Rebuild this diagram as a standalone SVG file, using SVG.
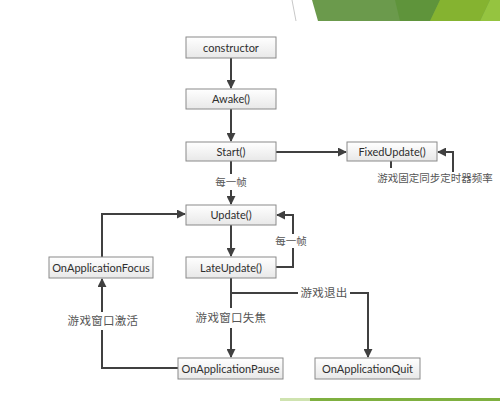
<svg xmlns="http://www.w3.org/2000/svg" width="500" height="401" viewBox="0 0 500 401">
<style>
.box{fill:url(#g);stroke:#8a8a8a;stroke-width:1}
.t{font-family:Lato,"Open Sans","Liberation Sans",sans-serif;font-size:11px;fill:#2e2e2e;text-anchor:middle}
.c{font-family:"Liberation Serif","Noto Sans CJK SC",serif;font-size:10.5px;fill:#555;text-anchor:middle}
.cb{font-family:"Liberation Serif","Noto Sans CJK SC",serif;font-size:11.5px;fill:#555;text-anchor:middle;letter-spacing:0.3px}
.ln{fill:none;stroke:#404040;stroke-width:2}
</style>
<defs>
<linearGradient id="g" x1="0" y1="0" x2="0" y2="1"><stop offset="0" stop-color="#ffffff"/><stop offset="1" stop-color="#e8e8e8"/></linearGradient>
<marker id="a" viewBox="0 0 10 10" refX="9" refY="5" markerWidth="4.5" markerHeight="4.5" orient="auto" markerUnits="strokeWidth"><path d="M0,0 L10,5 L0,10 z" fill="#404040"/></marker>
</defs>
<rect width="500" height="401" fill="#fff"/>
<g id="decor">
<polygon points="312,0 500,0 500,21 318,21" fill="#6b9a4c"/>
<polygon points="395,0 440,0 430,21 400,21" fill="#5f943b"/>
<polygon points="440,0 490,0 480,21 430,21" fill="#85b330"/>
<polygon points="490,0 500,0 500,21 480,21" fill="#95c440"/>
<line x1="292" y1="0" x2="296" y2="21" stroke="#c8c8c8" stroke-width="1"/>
<rect x="280" y="398" width="220" height="3" fill="#7fb040"/>
<rect x="280" y="398" width="30" height="3" fill="#cfe3b0"/>
</g>
<g id="connectors">
<line class="ln" x1="231" y1="58" x2="231" y2="88" marker-end="url(#a)"/>
<line class="ln" x1="231" y1="109" x2="231" y2="141" marker-end="url(#a)"/>
<line class="ln" x1="276" y1="152" x2="346" y2="152" marker-end="url(#a)"/>
<polyline class="ln" points="453,172 453,152 438,152" marker-end="url(#a)"/>
<line class="ln" x1="391" y1="161" x2="391" y2="168"/>
<line class="ln" x1="231" y1="161" x2="231" y2="174"/>
<line class="ln" x1="231" y1="190" x2="231" y2="204" marker-end="url(#a)"/>
<line class="ln" x1="231" y1="225" x2="231" y2="256" marker-end="url(#a)"/>
<polyline class="ln" points="102,257 102,214 185,214" marker-end="url(#a)"/>
<polyline class="ln" points="276,267 293,267 293,248"/>
<polyline class="ln" points="293,234 293,215 277,215" marker-end="url(#a)"/>
<line class="ln" x1="231" y1="278" x2="231" y2="308"/>
<line class="ln" x1="231" y1="328" x2="231" y2="357" marker-end="url(#a)"/>
<line class="ln" x1="231" y1="293" x2="298" y2="293"/>
<polyline class="ln" points="350,293 368,293 368,357" marker-end="url(#a)"/>
<polyline class="ln" points="178,368 102,368 102,330"/>
<line class="ln" x1="102" y1="312" x2="102" y2="279" marker-end="url(#a)"/>
</g>
<g id="n-constructor"><rect class="box" x="186" y="37" width="90" height="21"/><text class="t" x="231" y="51.5">constructor</text></g>
<g id="n-awake"><rect class="box" x="186" y="89" width="90" height="20"/><text class="t" x="231" y="103">Awake()</text></g>
<g id="n-start"><rect class="box" x="186" y="142" width="90" height="19"/><text class="t" x="231" y="155.5">Start()</text></g>
<g id="n-fixed"><rect class="box" x="347" y="142" width="90" height="19"/><text class="t" x="392" y="155.5">FixedUpdate()</text></g>
<g id="n-update"><rect class="box" x="186" y="205" width="90" height="20"/><text class="t" x="231" y="219">Update()</text></g>
<g id="n-late"><rect class="box" x="186" y="257" width="90" height="21"/><text class="t" x="231" y="271.5">LateUpdate()</text></g>
<g id="n-focus"><rect class="box" x="49" y="257" width="104" height="21"/><text class="t" x="101" y="271.5">OnApplicationFocus</text></g>
<g id="n-pause"><rect class="box" x="178" y="358" width="105" height="21"/><text class="t" x="230.5" y="372.5">OnApplicationPause</text></g>
<g id="n-quit"><rect class="box" x="315" y="358" width="105" height="21"/><text class="t" x="367.5" y="372.5">OnApplicationQuit</text></g>
<g id="labels">
<text class="c" x="435" y="182">游戏固定同步定时器频率</text>
<text class="c" x="231" y="186">每一帧</text>
<text class="c" x="291" y="245">每一帧</text>
<text class="cb" x="231" y="322">游戏窗口失焦</text>
<text class="cb" x="324" y="297">游戏退出</text>
<text class="cb" x="103" y="325">游戏窗口激活</text>
</g>
</svg>
